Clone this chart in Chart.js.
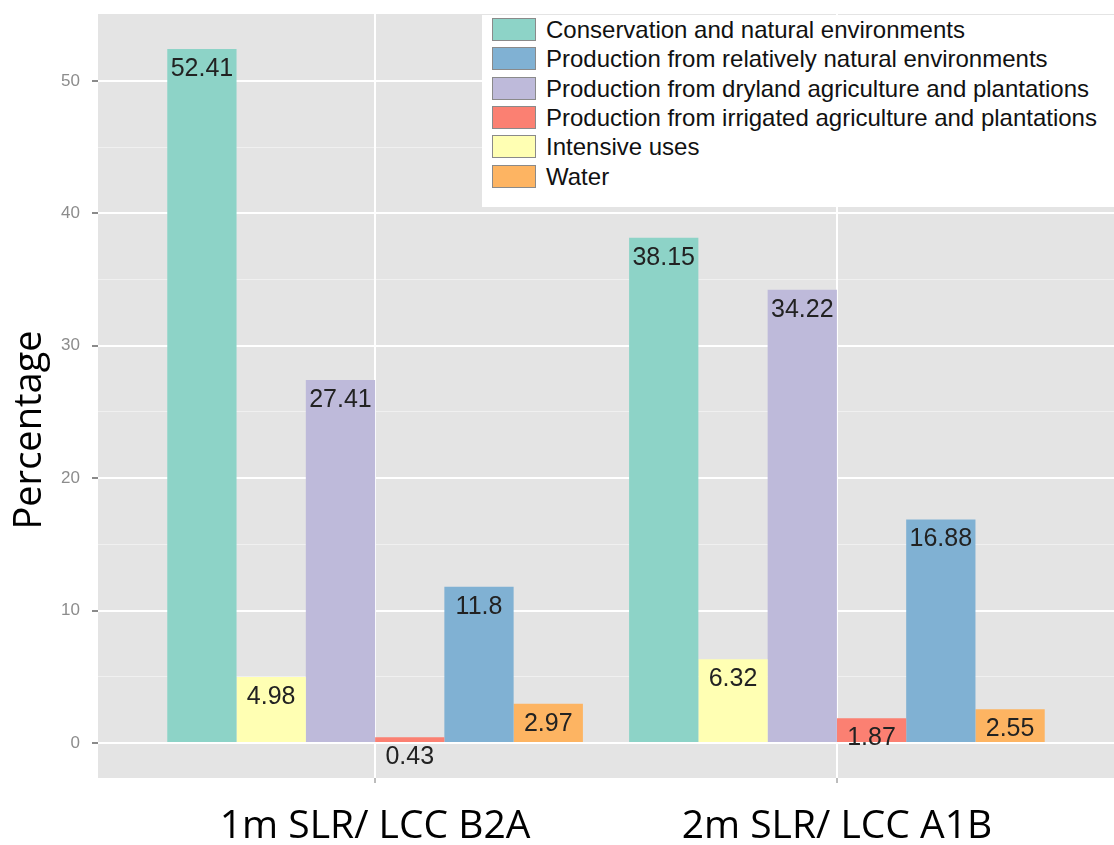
<!DOCTYPE html>
<html>
<head>
<meta charset="utf-8">
<script src="https://cdn.jsdelivr.net/npm/chart.js@4.4.1/dist/chart.umd.min.js"></script>
<style>
  html, body { margin: 0; padding: 0; background: #fff; }
  #wrap { position: relative; width: 1114px; height: 845px; }
  #legend {
    position: absolute; left: 482px; top: 15px; width: 632px; height: 192px;
    background: #fff; font-family: "Liberation Sans", Arial, sans-serif; font-size: 24px; color: #111;
  }
  #legend .item { position: absolute; left: 10px; height: 23px; line-height: 23px; display: flex; align-items: center; white-space: nowrap; }
  #legend .sw { width: 44px; height: 23px; border: 1px solid #8a8a8a; box-sizing: border-box; margin-right: 10px; flex: none; }
</style>
</head>
<body>
<div id="wrap">
  <canvas id="chart" width="1114" height="845"></canvas>
  <div id="legend"></div>
</div>
<script>
// groups on the x axis
const groups = ['1m SLR/ LCC B2A', '2m SLR/ LCC A1B'];

// series, in bar order inside each group
const seriesNames = [
  'Conservation and natural environments',
  'Intensive uses',
  'Production from dryland agriculture and plantations',
  'Production from irrigated agriculture and plantations',
  'Production from relatively natural environments',
  'Water'
];
const seriesColors = ['#8dd3c7', '#ffffb3', '#bebada', '#fb8072', '#80b1d3', '#fdb462'];

const conservation = [52.41, 38.15];
const intensive = [4.98, 6.32];
const dryland = [27.41, 34.22];
const irrigated = [0.43, 1.87];
const relNatural = [11.8, 16.88];
const water = [2.97, 2.55];

// legend order differs from bar order
const legendOrder = [0, 4, 2, 3, 1, 5];

const yTicks = [0, 5, 10, 15, 20, 25, 30, 35, 40, 45, 50];
const yMin = -2.64, yMax = 55.05;
const yTitle = 'Percentage';

const allValues = [conservation, intensive, dryland, irrigated, relNatural, water];

const datasets = allValues.map((vals, i) => ({
  label: seriesNames[i],
  data: vals.map((v, g) => ({ x: g + 1, y: v })),
  backgroundColor: seriesColors[i],
  borderWidth: 0
}));

// grey ggplot panel
const panelBg = {
  id: 'panelBg',
  beforeDraw(chart) {
    const { ctx, chartArea: a } = chart;
    ctx.save();
    ctx.fillStyle = '#e4e4e4';
    ctx.fillRect(a.left, a.top, a.right - a.left, a.bottom - a.top);
    ctx.restore();
  }
};

// value labels just under the top of each bar
const barLabels = {
  id: 'barLabels',
  afterDatasetsDraw(chart) {
    const ctx = chart.ctx;
    ctx.save();
    ctx.font = '25px "Liberation Sans", Arial, sans-serif';
    ctx.fillStyle = '#222';
    ctx.textAlign = 'center';
    ctx.textBaseline = 'middle';
    chart.data.datasets.forEach((ds, i) => {
      chart.getDatasetMeta(i).data.forEach((bar, j) => {
        ctx.fillText(String(ds.data[j].y), bar.x, bar.y + 20);
      });
    });
    ctx.restore();
  }
};

// y axis title, sitting a bit below the panel middle like the original
const yTitlePlugin = {
  id: 'yTitle',
  afterDraw(chart) {
    const ctx = chart.ctx;
    const a = chart.chartArea;
    ctx.save();
    ctx.translate(30, (a.top + a.bottom) / 2 + 34);
    ctx.rotate(-Math.PI / 2);
    ctx.font = '38px "Open Sans", sans-serif';
    ctx.fillStyle = '#000';
    ctx.textAlign = 'center';
    ctx.textBaseline = 'middle';
    ctx.fillText(yTitle, 0, 0);
    ctx.restore();
  }
};

new Chart(document.getElementById('chart'), {
  type: 'bar',
  data: { datasets },
  plugins: [panelBg, barLabels, yTitlePlugin],
  options: {
    responsive: false,
    animation: false,
    layout: { padding: { top: 14, right: 0, left: 0, bottom: 0 } },
    datasets: { bar: { categoryPercentage: 0.9, barPercentage: 1.0 } },
    plugins: { legend: { display: false }, tooltip: { enabled: false } },
    scales: {
      x: {
        type: 'linear',
        offset: false,
        min: 0.4,
        max: 2.6,
        afterBuildTicks(scale) { scale.ticks = groups.map((g, i) => ({ value: i + 1 })); },
        afterFit(scale) { scale.height = 67; scale.paddingLeft = 0; scale.paddingRight = 0; },
        border: { display: false },
        grid: { offset: false, color: '#ffffff', lineWidth: 2, tickColor: '#7a7a7a', tickLength: 5, tickWidth: 1 },
        ticks: {
          callback: (v) => groups[v - 1],
          padding: 20,
          color: '#000',
          font: { family: '"Open Sans", sans-serif', size: 39 }
        }
      },
      y: {
        min: yMin,
        max: yMax,
        afterBuildTicks(scale) { scale.ticks = yTicks.map(v => ({ value: v })); },
        afterFit(scale) { scale.width = 98; scale.paddingTop = 0; scale.paddingBottom = 0; },
        border: { display: false },
        grid: {
          color: (c) => (c.tick && c.tick.value % 10 === 0) ? '#ffffff' : 'rgba(255,255,255,0.45)',
          lineWidth: (c) => (c.tick && c.tick.value % 10 === 0) ? 2 : 1,
          tickColor: (c) => (c.tick && c.tick.value % 10 === 0) ? '#8a8a8a' : 'rgba(0,0,0,0)',
          tickLength: 6
        },
        ticks: {
          callback: (v) => (v % 10 === 0 ? String(v) : ''),
          padding: 12,
          color: '#8c8c8c',
          font: { family: '"Liberation Sans", Arial, sans-serif', size: 17 }
        }
      }
    }
  }
});

// legend box inside the panel
const legend = document.getElementById('legend');
legendOrder.forEach((idx, row) => {
  const item = document.createElement('div');
  item.className = 'item';
  item.style.top = Math.round(3 + row * 29.3) + 'px';
  const sw = document.createElement('span');
  sw.className = 'sw';
  sw.style.background = seriesColors[idx];
  const txt = document.createElement('span');
  txt.textContent = seriesNames[idx];
  item.appendChild(sw);
  item.appendChild(txt);
  legend.appendChild(item);
});
</script>
</body>
</html>
